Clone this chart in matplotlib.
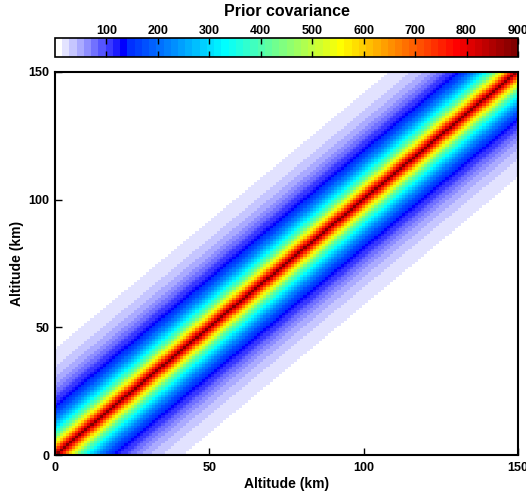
import numpy as np
import matplotlib
matplotlib.use("Agg")
import matplotlib.pyplot as plt
from matplotlib.colors import ListedColormap, Normalize
from matplotlib.cm import ScalarMappable

# ---- data ----
altitude_km = np.arange(0, 151, 1)          # retrieval grid (km)
prior_sigma = 30.0                           # prior std-dev -> variance 900
corr_length_km = 10.0                        # correlation length
cbar_ticks = [100, 200, 300, 400, 500, 600, 700, 800, 900]
x_ticks = [0, 50, 100, 150]
y_ticks = [0, 50, 100, 150]

# prior covariance matrix (exponential correlation)
lag = np.abs(altitude_km[:, None] - altitude_km[None, :])
cov = prior_sigma**2 * np.exp(-lag / corr_length_km)

# ---- colormap: MATLAB jet(64) with a white->blue low end ----
n = 64
jet = np.zeros((n, 3))
for i in range(n):
    v = (i + 1) / n * 4
    r = np.clip(min(v - 1.5, -v + 4.5), 0, 1)
    g = np.clip(min(v - 0.5, -v + 3.5), 0, 1)
    b = np.clip(min(v + 0.5, -v + 2.5), 0, 1)
    jet[i] = [r, g, b]
cols = jet.copy()
n_ramp = 10
for i in range(n_ramp):
    f = 1 - i / (n_ramp - 1)
    cols[i] = [f, f, 1.0]
cmap = ListedColormap(cols)
norm = Normalize(vmin=0, vmax=900)

plt.rcParams['font.family'] = ['Liberation Sans', 'DejaVu Sans']
plt.rcParams['font.weight'] = 'bold'

W, H = 526, 494
fig = plt.figure(figsize=(W / 100, H / 100), dpi=100)

ax = fig.add_axes([55 / W, 1 - 455 / H, 463 / W, 383 / H])
ax.imshow(cov, cmap=cmap, norm=norm, origin='lower', aspect='auto',
          interpolation='nearest',
          extent=[altitude_km[0] - 0.5, altitude_km[-1] + 0.5,
                  altitude_km[0] - 0.5, altitude_km[-1] + 0.5])
ax.set_xlim(0, 150)
ax.set_ylim(0, 150)
ax.set_xticks(x_ticks)
ax.set_yticks(y_ticks)
ax.tick_params(direction='in', length=5, width=1, labelsize=9)
ax.tick_params(axis='x', pad=5)
ax.tick_params(axis='y', pad=4)
for lab in ax.get_xticklabels() + ax.get_yticklabels():
    lab.set_fontweight('bold')
for s in ax.spines.values():
    s.set_linewidth(1.5)
ax.set_xlabel('Altitude (km)', fontsize=10, fontweight='bold', labelpad=2)
ax.set_ylabel('Altitude (km)', fontsize=10, fontweight='bold', labelpad=3)

cax = fig.add_axes([55 / W, 1 - 57 / H, 463 / W, 19 / H])
sm = ScalarMappable(norm=norm, cmap=cmap)
cb = fig.colorbar(sm, cax=cax, orientation='horizontal')
cb.set_ticks(cbar_ticks)
cax.xaxis.set_ticks_position('both')
cax.xaxis.set_label_position('top')
cax.tick_params(axis='x', direction='in', length=4, width=1, labelsize=9,
                labeltop=True, labelbottom=False, pad=1)
for lab in cax.get_xticklabels():
    lab.set_fontweight('bold')
cb.outline.set_linewidth(1.2)
fig.text(287 / W, 1 - 12 / H, 'Prior covariance', ha='center', va='center',
         fontsize=11.5, fontweight='bold')

fig.savefig('out.png', dpi=100)
